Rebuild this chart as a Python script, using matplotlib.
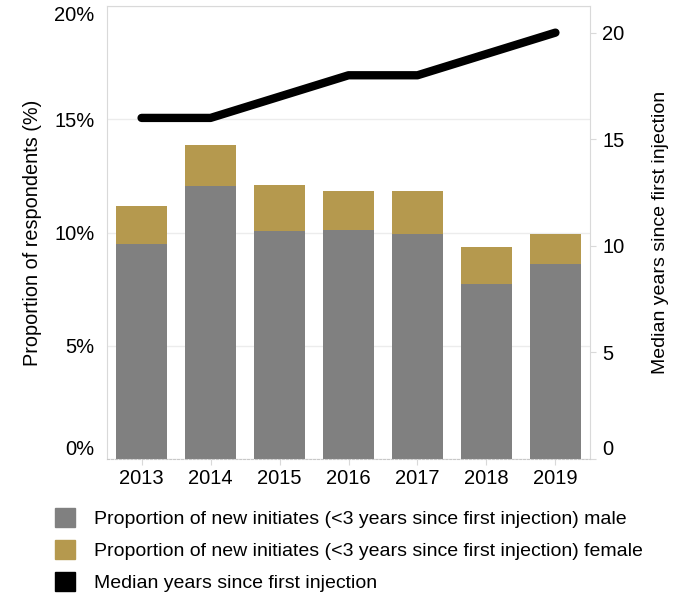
import numpy as np
import matplotlib.pyplot as plt
from matplotlib.patches import Patch

plt.rcParams['font.family'] = ['Liberation Sans', 'DejaVu Sans']

years = ['2013', '2014', '2015', '2016', '2017', '2018', '2019']
male = [9.5, 12.05, 10.05, 10.1, 9.95, 7.75, 8.6]
female = [1.65, 1.8, 2.05, 1.75, 1.9, 1.6, 1.35]
median_years = [16, 16, 17, 18, 18, 19, 20]

grey = '#808080'
gold = '#b5994e'
light = '#d9d9d9'

fig = plt.figure(figsize=(6.82, 5.97), dpi=100)
ax = fig.add_axes([0.157, 0.231, 0.708, 0.759])
x = np.arange(len(years))

ax.bar(x, male, width=0.74, color=grey, zorder=2)
ax.bar(x, female, width=0.74, bottom=male, color=gold, zorder=2)

ax.set_xlim(-0.5, 6.5)
ax.set_ylim(0, 20)
ax.set_yticks([0, 5, 10, 15, 20])
ax.set_yticklabels(['0%', '5%', '10%', '15%', '20%'])
ax.set_xticks(x)
ax.set_xticklabels(years)
ax.grid(axis='y', color='#ececec', linewidth=1, zorder=0)
ax.tick_params(axis='y', length=0, pad=9, labelsize=14.5)
ax.tick_params(axis='x', length=4, color=light, pad=3, labelsize=14.5)
ax.set_ylabel('Proportion of respondents (%)', fontsize=14.3, labelpad=9)
ylabs = ax.get_yticklabels()
ylabs[0].set_va('bottom')
ylabs[-1].set_va('top')

for s in ['left', 'right', 'top']:
    ax.spines[s].set_color(light)
ax.spines['bottom'].set_color('#c8c8c8')
ax.spines['bottom'].set_linestyle((0, (2, 1.5)))

ax2 = ax.twinx()
ax2.plot(x, median_years, color='black', linewidth=6, solid_capstyle='round',
         solid_joinstyle='round', zorder=3)
ax2.set_ylim(0, 21.25)
ax2.set_yticks([0, 5, 10, 15, 20])
ax2.tick_params(axis='y', length=4, color=light, pad=5, labelsize=14.5)
ax2.set_ylabel('Median years since first injection', fontsize=14, labelpad=20)
ax2.get_yticklabels()[0].set_va('bottom')
for s in ['left', 'right', 'top', 'bottom']:
    ax2.spines[s].set_visible(False)

handles = [Patch(color=grey), Patch(color=gold), Patch(color='black')]
labels = ['Proportion of new initiates (<3 years since first injection) male',
          'Proportion of new initiates (<3 years since first injection) female',
          'Median years since first injection']
fig.legend(handles, labels, loc='upper left', bbox_to_anchor=(55 / 682, 1 - 508 / 597),
           frameon=False, fontsize=14, handlelength=1.05, handleheight=1.1,
           handletextpad=0.95, labelspacing=0.62, borderpad=0, borderaxespad=0)

fig.savefig('out.png', dpi=100)
